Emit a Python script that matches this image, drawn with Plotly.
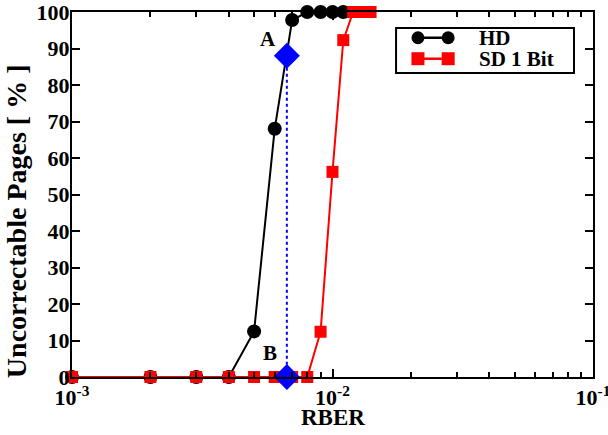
import numpy as np
import plotly.graph_objects as go

# Data
rber_hd = [1e-3, 2e-3, 3e-3, 4e-3, 5e-3, 6e-3, 7e-3, 8e-3, 9e-3, 1e-2, 1.1e-2]
hd_pct = [0, 0, 0, 0, 12.5, 68, 97.8, 100, 100, 100, 100]

rber_sd = [1e-3, 2e-3, 3e-3, 4e-3, 5e-3, 6e-3, 7e-3, 8e-3, 9e-3, 1e-2, 1.1e-2, 1.2e-2, 1.3e-2, 1.4e-2]
sd_pct = [0, 0, 0, 0, 0, 0, 0, 0, 12.4, 56.2, 92.3, 100, 100, 100]

marker_rber = [6.68e-3, 6.68e-3]
marker_pct = [88, 0]
marker_labels = ["A", "B"]

series_names = ["HD", "SD 1 Bit"]

x_tickvals = [1e-3, 1e-2, 1e-1]
x_ticktext = ["<b>10<sup>-3</sup></b>", "<b>10<sup>-2</sup></b>", "<b>10<sup>-1</sup></b>"]
x_minor = [m * 10.0 ** e for e in (-3, -2) for m in range(2, 10)]
y_tickvals = list(range(0, 101, 10))

FONT = "Liberation Serif"
BLACK, RED, BLUE = "black", "#ff0000", "#0000ff"

fig = go.Figure()
fig.add_trace(go.Scatter(
    x=rber_hd, y=hd_pct, mode="lines+markers", name=series_names[0],
    line=dict(color=BLACK, width=2),
    marker=dict(symbol="circle", size=14, color=BLACK),
    cliponaxis=False))
fig.add_trace(go.Scatter(
    x=rber_sd, y=sd_pct, mode="lines+markers", name=series_names[1],
    line=dict(color=RED, width=2),
    marker=dict(symbol="square", size=12, color=RED),
    cliponaxis=False))
fig.add_trace(go.Scatter(
    x=marker_rber, y=marker_pct, mode="lines+markers", showlegend=False,
    line=dict(color=BLUE, width=2, dash="dot"),
    marker=dict(symbol="diamond", size=20, color=BLUE),
    cliponaxis=False))

label_x = [5.65e-3, 5.75e-3]
label_y = [92.5, 6.5]
for lx, ly, t in zip(label_x, label_y, marker_labels):
    fig.add_annotation(x=np.log10(lx), y=ly, text="<b>%s</b>" % t, showarrow=False,
                       font=dict(family=FONT, size=21, color=BLACK))

# Axis titles
fig.add_annotation(xref="paper", yref="paper", x=0.5, y=-0.112, xanchor="center", yanchor="middle",
                   text="<b>RBER</b>", showarrow=False, font=dict(family=FONT, size=23, color=BLACK))
fig.add_annotation(xref="paper", yref="paper", x=-0.1075, y=0.427, xanchor="center", yanchor="middle",
                   text="<b>Uncorrectable Pages [ % ]</b>", textangle=-90, showarrow=False,
                   font=dict(family=FONT, size=28, color=BLACK))

# Hand-drawn legend (box, symbols with two markers, labels)
fig.add_shape(type="rect", xref="paper", yref="paper", x0=0.622, x1=0.9635, y0=0.833, y1=0.956,
              line=dict(color=BLACK, width=2), fillcolor="white", layer="above")
leg_y = [0.9295, 0.872]
leg_colors = [BLACK, RED]
leg_shapes = ["circle", "rect"]
for ly, col, shp, name in zip(leg_y, leg_colors, leg_shapes, series_names):
    fig.add_shape(type="line", xref="paper", yref="paper", x0=0.664, x1=0.722, y0=ly, y1=ly,
                  line=dict(color=col, width=2.5), layer="above")
    for xa in (0.664, 0.722):
        fig.add_shape(type=shp, xref="paper", yref="paper", xsizemode="pixel", ysizemode="pixel",
                      xanchor=xa, yanchor=ly, x0=-6.5, x1=6.5, y0=-6.5, y1=6.5,
                      line=dict(color=col, width=0), fillcolor=col, layer="above")
    fig.add_annotation(xref="paper", yref="paper", x=0.7775, y=ly, xanchor="left", yanchor="middle",
                       text="<b>%s</b>" % name, showarrow=False,
                       font=dict(family=FONT, size=21, color=BLACK))

fig.update_xaxes(
    type="log", range=[-3, -1], tickmode="array", tickvals=x_tickvals, ticktext=x_ticktext,
    ticks="inside", ticklen=8, tickwidth=2, tickcolor=BLACK,
    minor=dict(tickmode="array", tickvals=x_minor, ticks="inside", ticklen=5, tickwidth=1.5,
               tickcolor=BLACK, showgrid=False),
    showline=True, linewidth=2, linecolor=BLACK, mirror="allticks",
    showgrid=False, zeroline=False, automargin=False, ticklabeloverflow="allow",
    tickfont=dict(family=FONT, size=22, color=BLACK))
fig.update_yaxes(
    range=[0, 100], tickmode="array", tickvals=y_tickvals,
    ticktext=["<b>%d</b>" % v for v in y_tickvals],
    ticks="inside", ticklen=8, tickwidth=2, tickcolor=BLACK,
    showline=True, linewidth=2, linecolor=BLACK, mirror="allticks",
    showgrid=False, zeroline=False, automargin=False, ticklabeloverflow="allow",
    ticklabelstandoff=-4,
    tickfont=dict(family=FONT, size=22, color=BLACK))

fig.update_layout(
    width=608, height=435,
    margin=dict(l=72, r=15, t=12, b=58),
    paper_bgcolor="white", plot_bgcolor="white",
    font=dict(family=FONT, color=BLACK),
    showlegend=False,
)
fig.write_html("out.html", config={"displayModeBar": False},
               post_script="document.body.style.margin='0';")
